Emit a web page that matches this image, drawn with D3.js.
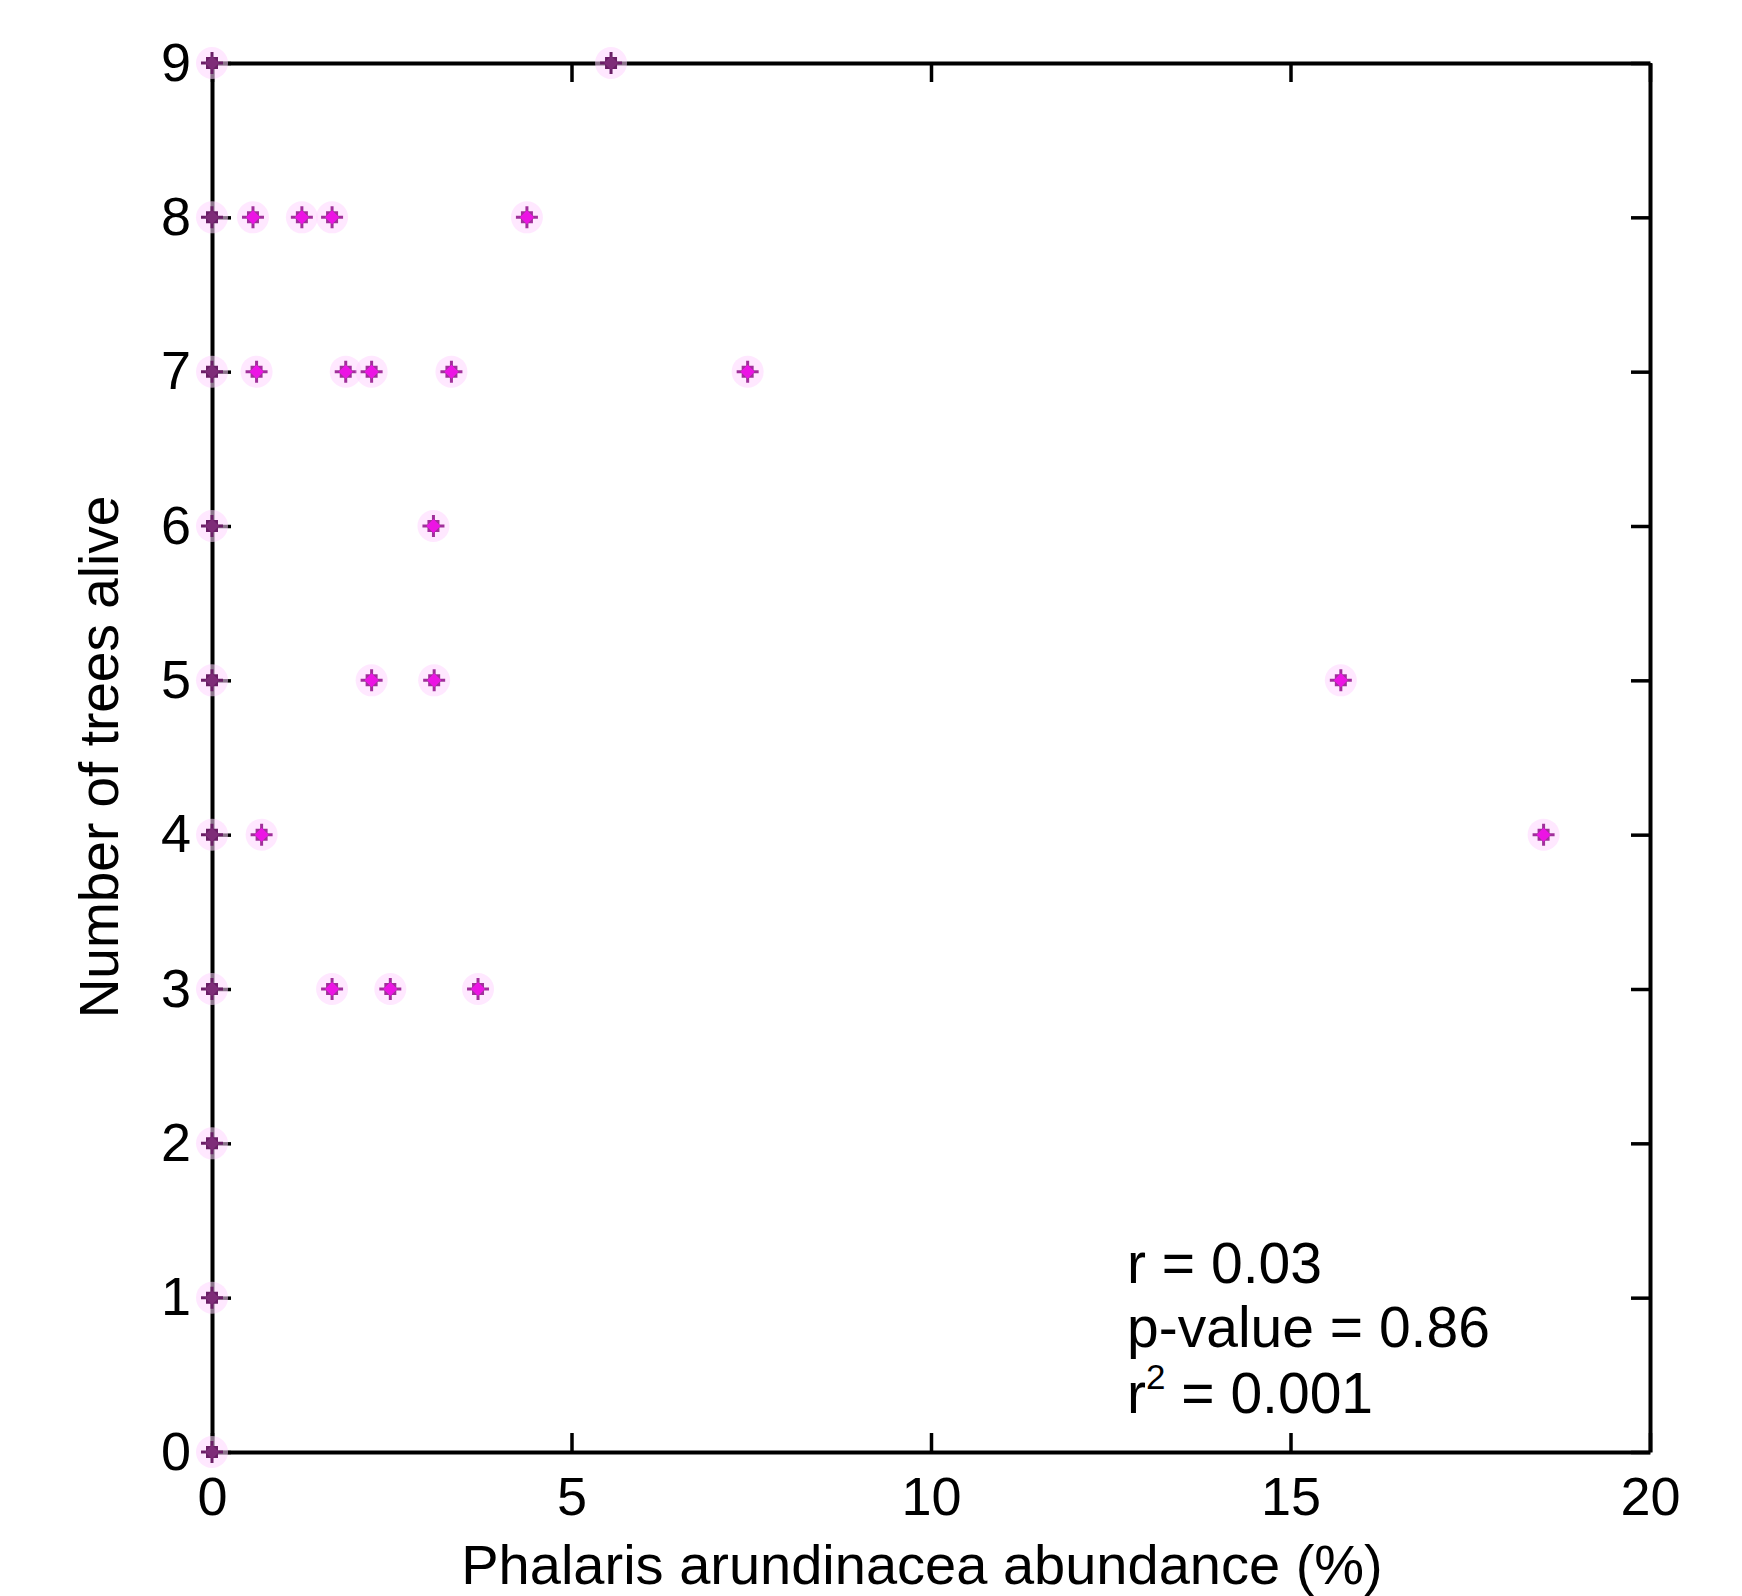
<!DOCTYPE html>
<html>
<head>
  <meta charset="utf-8">
  <title>Trees alive vs Phalaris abundance</title>
  <script src="https://d3js.org/d3.v7.min.js"></script>
  <style>
    body { margin: 0; background: #fff; }
    svg { display: block; }
    text { font-family: "Liberation Sans", Arial, Helvetica, sans-serif; fill: #000; }
  </style>
</head>
<body>
<svg id="chart" width="1742" height="1596"></svg>
<script>
// abundance (%), one entry per point
var abundance = [0, 5.55,
                 0, 0.57, 1.25, 1.67, 4.38,
                 0, 0.62, 1.86, 2.22, 3.33, 7.45,
                 0, 3.08,
                 0, 2.22, 3.09, 15.70,
                 0, 0.69, 18.52,
                 0, 1.67, 2.48, 3.70,
                 0, 0, 0];
var treesAlive = [9, 9,
                  8, 8, 8, 8, 8,
                  7, 7, 7, 7, 7, 7,
                  6, 6,
                  5, 5, 5, 5,
                  4, 4, 4,
                  3, 3, 3, 3,
                  2, 1, 0];
var xTicks = [0, 5, 10, 15, 20];
var yTicks = [0, 1, 2, 3, 4, 5, 6, 7, 8, 9];
var statLines = ["r = 0.03", "p-value = 0.86", "r2 = 0.001"];

var svg = d3.select("#chart");
// plot box (note: "top" is reserved by window, so use other names)
var plotL = 212, plotR = 1650, plotT = 63, plotB = 1452;

var x = d3.scaleLinear().domain([0, 20]).range([plotL, plotR]);
var y = d3.scaleLinear().domain([0, 9]).range([plotB, plotT]);

var points = abundance.map(function (a, i) { return { x: a, y: treesAlive[i] }; });

var onEdge = function (d) { return d.x === 0 || d.y === 9 || d.y === 0; };

function drawMarkers(sel) {
  var mk = sel.enter().append("g")
    .attr("transform", function (d) { return "translate(" + x(d.x) + "," + y(d.y) + ")"; });
  mk.append("circle").attr("r", 16).attr("fill", "#ffd6ff").attr("opacity", 0.55);
  mk.append("path").attr("d", "M-1.5,-11L1.5,-11L1.5,-6L6,-6L6,-1.5L11,-1.5L11,1.5L6,1.5L6,6L1.5,6L1.5,11L-1.5,11L-1.5,6L-6,6L-6,1.5L-11,1.5L-11,-1.5L-6,-1.5L-6,-6L-1.5,-6Z")
    .attr("fill", function (d) { return onEdge(d) ? "#6a1e66" : "#a0309a"; });
  mk.append("path").attr("d", "M0,-7L7,0L0,7L-7,0Z")
    .attr("fill", function (d) { return onEdge(d) ? "#7e2c78" : "#ec14e4"; });
}

// axes, ticks pointing inward on all four sides
var tick = 19;
var gx = svg.append("g").attr("transform", "translate(0," + plotB + ")")
  .call(d3.axisBottom(x).tickValues(xTicks).tickSizeInner(-tick).tickSizeOuter(0).tickPadding(25));
var gxt = svg.append("g").attr("transform", "translate(0," + plotT + ")")
  .call(d3.axisTop(x).tickValues(xTicks).tickSizeInner(-tick).tickSizeOuter(0).tickFormat(""));
var gy = svg.append("g").attr("transform", "translate(" + plotL + ",0)")
  .call(d3.axisLeft(y).tickValues(yTicks).tickSizeInner(-tick).tickSizeOuter(0).tickPadding(21));
var gyr = svg.append("g").attr("transform", "translate(" + plotR + ",0)")
  .call(d3.axisRight(y).tickValues(yTicks).tickSizeInner(-tick).tickSizeOuter(0).tickFormat(""));

[gx, gxt, gy, gyr].forEach(function (g) {
  g.select(".domain").attr("stroke", "#000").attr("stroke-width", 4);
  g.selectAll(".tick line").attr("stroke", "#000").attr("stroke-width", 3.5);
  g.selectAll(".tick text").attr("font-size", 54).attr("fill", "#000")
    .style("font-family", '"Liberation Sans", Arial, sans-serif');
});

drawMarkers(svg.append("g").selectAll("g").data(points));

// axis titles
svg.append("text").attr("x", 922).attr("y", 1584).attr("text-anchor", "middle")
  .attr("font-size", 56).text("Phalaris arundinacea abundance (%)");
svg.append("text").attr("transform", "translate(118,757) rotate(-90)")
  .attr("text-anchor", "middle").attr("font-size", 55).text("Number of trees alive");

// statistics
var stats = svg.append("g").attr("font-size", 57);
var baselines = [1283, 1347, 1413];
statLines.forEach(function (s, i) {
  var t = stats.append("text").attr("x", 1127).attr("y", baselines[i]);
  if (s.indexOf("r2") === 0) {
    t.append("tspan").text("r");
    t.append("tspan").attr("font-size", 35).attr("dy", -24).text("2");
    t.append("tspan").attr("dy", 24).text(s.slice(2));
  } else {
    t.text(s);
  }
});
</script>
</body>
</html>
